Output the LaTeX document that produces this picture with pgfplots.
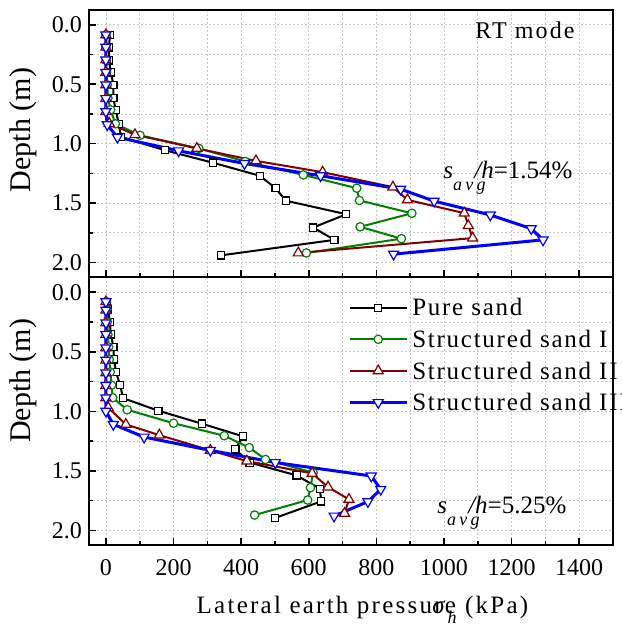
\documentclass[border=0pt]{standalone}
\usepackage{fontspec}
\setmainfont{Liberation Serif}
\usepackage{pgfplots}
\pgfplotsset{compat=1.18}

\definecolor{ogreen}{RGB}{0,128,0}
\definecolor{ored}{RGB}{128,0,0}
\definecolor{oblue}{RGB}{0,0,255}

\pgfplotsset{
  depthaxis/.style={
    scale only axis, width=262pt,
    xmin=-50, xmax=1500, ymin=-0.125, ymax=2.125, y dir=reverse,
    xtick={0,200,...,1400}, minor x tick num=1,
    ytick={0,0.5,1,1.5,2}, minor y tick num=1,
    tick pos=left, tick align=inside,
    major tick length=3.5pt, minor tick length=2pt,
    every tick/.style={black, line width=0.8pt},
    grid=both,
    major grid style={gray!45, dash pattern=on 1pt off 1pt, line width=0.4pt},
    minor grid style={gray!45, dash pattern=on 1pt off 1pt, line width=0.4pt},
    axis line style={line width=1pt},
    tick label style={font=\fontsize{12}{14}\selectfont},
    /pgf/number format/assume math mode=true,
    /pgf/number format/set thousands separator={},
    yticklabel style={/pgf/number format/fixed, /pgf/number format/fixed zerofill, /pgf/number format/precision=1},
    xticklabel style={yshift=-3.5pt},
    ylabel={Depth (m)},
  },
  psand/.style={black, line width=1pt, mark=square*, mark size=1.8pt,
    mark options={solid, fill=white, line width=0.6pt}},
  psI/.style={ogreen, line width=1pt, mark=*, mark size=2.1pt,
    mark options={solid, fill=white, line width=0.6pt}},
  psII/.style={ored, line width=1pt, mark=triangle*, mark size=2.9pt,
    mark options={solid, fill=white, line width=0.6pt}},
  psIII/.style={oblue, line width=1.5pt, mark=triangle*, mark size=2.9pt,
    mark options={solid, fill=white, line width=0.6pt, rotate=180}},
}

\begin{document}
\begin{tikzpicture}
% ---------------- upper panel: s_avg/h = 1.54 % ----------------
\begin{axis}[depthaxis, height=133.65pt, at={(0pt,0pt)}, anchor=north west,
  xticklabels={},
  ylabel style={at={(axis description cs:-0.126,0.551)}, anchor=center, font=\fontsize{15}{18}\selectfont}]
\addplot[psand] table {
12 0.084
9 0.19
9 0.30
15 0.40
22 0.505
22 0.617
29 0.715
38 0.833
45 0.944
174 1.055
316 1.16
455 1.27
502 1.375
532 1.48
711 1.594
613 1.706
676 1.81
341 1.94
};
\addplot[psI] table {
0 0.084
0 0.19
1 0.30
2 0.40
4 0.505
6 0.617
14 0.715
28 0.833
101 0.93
275 1.04
412 1.15
584 1.263
742 1.375
750 1.478
905 1.586
752 1.70
874 1.80
593 1.92
};
\addplot[psII] table {
0 0.084
0 0.188
0 0.295
0 0.40
0 0.505
0 0.62
0 0.73
10 0.83
86 0.925
269 1.04
444 1.145
641 1.24
849 1.366
892 1.473
1060 1.585
1072 1.69
1085 1.795
569 1.92
};
\addplot[psIII] table {
0 0.084
0 0.188
0 0.295
0 0.40
0 0.505
0 0.62
0 0.73
4 0.84
34 0.946
215 1.06
410 1.167
635 1.27
872 1.383
971 1.484
1137 1.60
1258 1.715
1293 1.81
851 1.93
};
\node[anchor=base, font=\fontsize{12}{14}\selectfont\addfontfeature{LetterSpace=9}]
  at (rel axis cs:0.832,0.894) {RT mode};
\node[anchor=base west, inner sep=0pt, font=\fontsize{12.5}{14}\selectfont]
  at (rel axis cs:0.6756,0.3704)
  {\textit{s}\raisebox{-0.5em}{\fontsize{9}{9}\selectfont\itshape\addfontfeature{LetterSpace=18}avg}\kern-0.45em\textit{/h}=1.54\%};
\end{axis}

% ---------------- lower panel: s_avg/h = 5.25 % ----------------
\begin{axis}[depthaxis, height=134pt, at={(0pt,-133.65pt)}, anchor=north west,
  ylabel style={at={(axis description cs:-0.126,0.614)}, anchor=center, font=\fontsize{15}{18}\selectfont},
  xlabel={\addfontfeature{LetterSpace=9}Lateral earth pressure\kern-0.95em\textit{σ}\raisebox{-0.4em}{\fontsize{9}{9}\selectfont\itshape h}\ (kPa)},
  xlabel style={at={(axis description cs:0.522,-0.2526)}, anchor=base, font=\fontsize{12.5}{14}\selectfont},
  legend cell align=left,
  legend image code/.code={\draw[mark repeat=2, mark phase=2] plot coordinates {(0pt,0pt) (14.25pt,0pt) (28.5pt,0pt)};},
  legend style={draw=none, fill=none, at={(0.494,0.947)}, anchor=north west, inner sep=0pt,
    font=\fontsize{12.5}{15}\selectfont\addfontfeature{LetterSpace=7},
    nodes={text height=10pt, text depth=1.8pt, inner sep=2pt}},
]
\addplot[psand] table {
7 0.145
11 0.25
15 0.355
22 0.46
24 0.565
30 0.67
42 0.78
51 0.89
155 0.995
284 1.104
405 1.21
383 1.32
425 1.43
564 1.538
633 1.65
637 1.756
500 1.896
};
\addlegendentry{Pure sand}
\addplot[psI] table {
2 0.08
3 0.145
4 0.25
6 0.355
8 0.46
10 0.565
13 0.67
17 0.78
20 0.886
63 0.987
200 1.10
350 1.205
424 1.305
472 1.404
613 1.515
605 1.641
597 1.745
440 1.871
};
\addlegendentry{Structured sand I}
\addplot[psII] table {
0 0.08
0 0.15
0 0.257
0 0.355
0 0.467
0 0.57
0 0.677
0 0.783
0 0.887
7 0.97
59 1.11
158 1.20
309 1.328
417 1.418
610 1.521
657 1.636
719 1.74
706 1.857
};
\addlegendentry{Structured sand II}
\addplot[psIII] table {
0 0.08
0 0.15
0 0.257
0 0.355
0 0.467
0 0.57
0 0.677
0 0.783
0 0.887
0 0.999
22 1.11
113 1.216
309 1.328
501 1.43
785 1.543
813 1.655
775 1.758
675 1.879
};
\addlegendentry{Structured sand III}
\node[anchor=base west, inner sep=0pt, font=\fontsize{12.5}{14}\selectfont]
  at (rel axis cs:0.664,0.1194)
  {\textit{s}\raisebox{-0.5em}{\fontsize{9}{9}\selectfont\itshape\addfontfeature{LetterSpace=18}avg}\kern-0.45em\textit{/h}=5.25\%};
\end{axis}
\pgfresetboundingbox
\useasboundingbox (-44.5pt,5pt) rectangle (266pt,-308pt);
\end{tikzpicture}
\end{document}
